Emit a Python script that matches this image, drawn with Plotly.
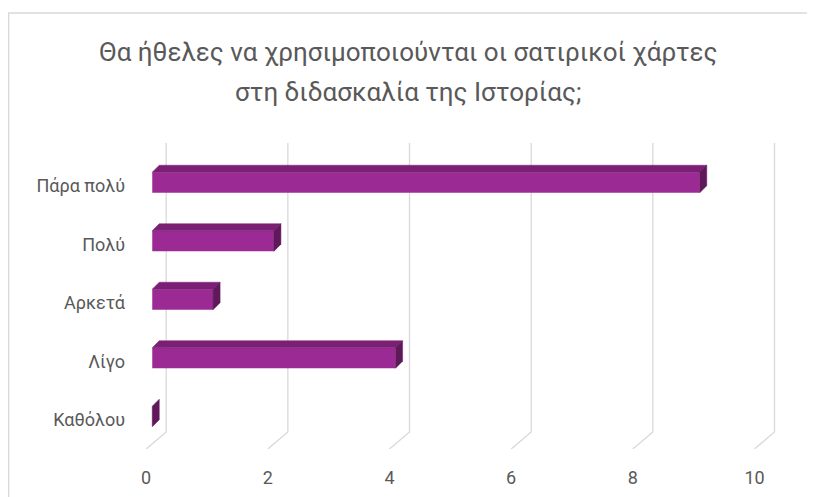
import plotly.graph_objects as go

categories = ["Πάρα πολύ", "Πολύ", "Αρκετά", "Λίγο", "Καθόλου"]
values = [9, 2, 1, 4, 0]
x_ticks = [0, 2, 4, 6, 8, 10]
title_lines = ["Θα ήθελες να χρησιμοποιούνται οι σατιρικοί χάρτες",
               "στη διδασκαλία της Ιστορίας;"]

FRONT = "#9c2a94"
TOP = "#7b1f74"
SIDE = "#5f1859"
GRID = "#d9d9d9"
TXT = "#595959"
FONT = "Roboto"

n = len(categories)
pos = [n - 1 - i for i in range(n)]  # top-to-bottom

# 3D geometry (data units)
bar_w = 0.35
bar_shift_y = 0.06
bar_base = 0.1
ddx, ddy = 0.115, 0.12
wall_dx, wall_dy = 0.329, 0.29
y_front = -0.4957
y_top = 4.735
y_max = 4.957
x_range = [-0.2, 10.6]

W, H = 807, 489
L, R, T, B = 125.83, 24, 122, 48
pw = W - L - R
ph = H - T - B

fig = go.Figure()

# back-wall gridlines with floor diagonals (below the bars)
for t in x_ticks:
    fig.add_shape(type="path", xref="x", yref="y", layer="below",
                  path=f"M {t},{y_front} L {t + wall_dx},{y_front + wall_dy} "
                       f"L {t + wall_dx},{y_top}",
                  line=dict(color=GRID, width=1.3))

# front faces
fig.add_trace(go.Bar(
    x=values, y=pos, base=bar_base, orientation="h",
    width=bar_w, offset=-bar_w / 2 + bar_shift_y,
    marker=dict(color=FRONT, line=dict(width=0)),
    showlegend=False, hoverinfo="x+text", text=categories, textposition="none"))

# top and side faces
for v, p in zip(values, pos):
    y0 = p + bar_shift_y - bar_w / 2
    y1 = p + bar_shift_y + bar_w / 2
    x0 = bar_base
    x1 = bar_base + v
    if v > 0:
        fig.add_trace(go.Scatter(
            x=[x0, x1, x1 + ddx, x0 + ddx, x0],
            y=[y1, y1, y1 + ddy, y1 + ddy, y1],
            fill="toself", fillcolor=TOP, mode="lines",
            line=dict(color=TOP, width=0.5),
            hoverinfo="skip", showlegend=False))
    fig.add_trace(go.Scatter(
        x=[x1, x1 + ddx, x1 + ddx, x1, x1],
        y=[y0, y0 + ddy, y1 + ddy, y1, y0],
        fill="toself", fillcolor=SIDE, mode="lines",
        line=dict(color=SIDE, width=0.5),
        hoverinfo="skip", showlegend=False))


def px2paper_x(px):
    return (px - L) / pw


def px2paper_y(py):
    return (H - B - py) / ph


# outer frame of the chart area
fig.add_shape(type="rect", xref="paper", yref="paper",
              x0=px2paper_x(0.5), x1=px2paper_x(830),
              y0=px2paper_y(520), y1=px2paper_y(5),
              line=dict(color="#d9d9d9", width=1.3), layer="below")

# two-line title
for line, ty in zip(title_lines, [44, 84]):
    fig.add_annotation(text=line, xref="paper", yref="paper",
                       x=px2paper_x(400), y=px2paper_y(ty),
                       xanchor="center", yanchor="middle", showarrow=False,
                       font=dict(size=26, color=TXT, family=FONT))

fig.update_layout(
    width=W, height=H,
    margin=dict(l=L, r=R, t=T, b=B, autoexpand=False),
    paper_bgcolor="white", plot_bgcolor="white",
    font=dict(family=FONT, color=TXT),
    xaxis=dict(range=x_range, tickvals=x_ticks,
               ticktext=[str(t) for t in x_ticks],
               showgrid=False, zeroline=False, showline=False,
               ticks="", ticklabelstandoff=16,
               tickfont=dict(size=18, color=TXT, family=FONT)),
    yaxis=dict(range=[y_front, y_max], tickvals=pos, ticktext=categories,
               showgrid=False, zeroline=False, showline=False,
               ticks="", ticklabelstandoff=8,
               tickfont=dict(size=18, color=TXT, family=FONT)),
)

fig.write_html("out.html")
